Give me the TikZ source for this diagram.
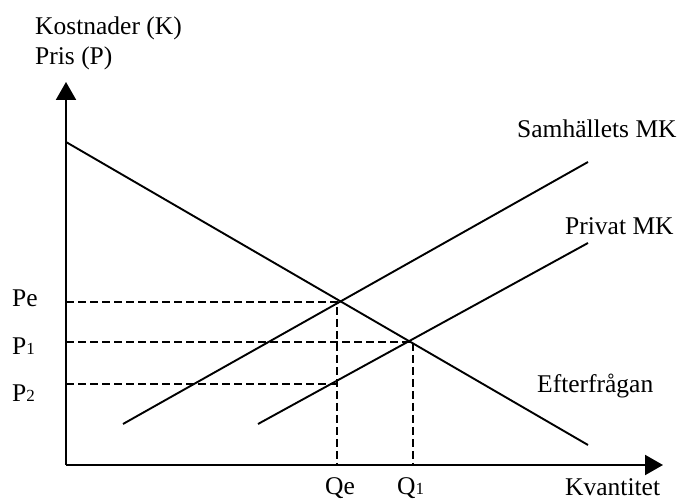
\documentclass[tikz,border=0pt]{standalone}
\usepackage{fontspec}
\setmainfont{Liberation Serif}
\usepackage{tikz}
\usetikzlibrary{arrows.meta}
\tikzset{
  axis/.style={-{Triangle[length=18pt,width=20pt]},line width=2pt,draw=black},
  curve/.style={line width=1.9pt,draw=black},
  guide/.style={line width=1.7pt,draw=black,dash pattern=on 8pt off 4pt},
  lbl/.style={inner sep=0pt,font=\fontsize{25.5}{30}\selectfont,anchor=base west}
}
\newcommand{\sml}[1]{{\fontsize{17}{17}\selectfont #1}}
\begin{document}
\begin{tikzpicture}[x=1pt,y=1pt]
\useasboundingbox (0,0) rectangle (685,502);
\coordinate (O) at (66,37);
\coordinate (ytip) at (66,420);
\coordinate (xtip) at (663,37);
\coordinate (dA) at (66,360);
\coordinate (dB) at (588,57);
\coordinate (sA) at (123,78);
\coordinate (sB) at (588,340);
\coordinate (pA) at (258,78);
\coordinate (pB) at (588,259);
\coordinate (E) at (337,200);
\coordinate (F) at (413,160);
\coordinate (G) at (337,118);

\draw[guide] (66,200) -- (E) -- (E |- O);
\draw[guide] (66,160) -- (F) -- (F |- O);
\draw[guide] (66,118) -- (G);

\draw[curve] (dA) -- (dB);
\draw[curve] (sA) -- (sB);
\draw[curve] (pA) -- (pB);

\draw[axis] (O) -- (ytip);
\draw[axis] (O) -- (xtip);

\node[lbl] (ylab) at (35,467) {Kostnader (K)};
\node[lbl] (plab) at (35,437) {Pris (P)};
\node[lbl] (smk) at (517,364) {Samhällets MK};
\node[lbl] (pmk) at (565,267) {Privat MK};
\node[lbl] (eft) at (537,109) {Efterfrågan};
\node[lbl] (xlab) at (565,6) {Kvantitet};
\node[lbl] (pe) at (12,195) {Pe};
\node[lbl] (p1) at (12,147) {P\sml{1}};
\node[lbl] (p2) at (12,100) {P\sml{2}};
\node[lbl] (qe) at (325,7) {Qe};
\node[lbl] (q1) at (397,7) {Q\sml{1}};
\end{tikzpicture}
\end{document}
